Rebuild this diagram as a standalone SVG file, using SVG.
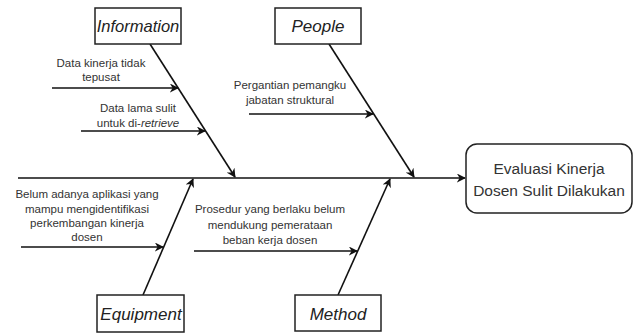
<svg xmlns="http://www.w3.org/2000/svg" width="640" height="336" viewBox="0 0 640 336">
<defs>
<marker id="ah" viewBox="0 0 10 10" refX="9" refY="5" markerWidth="9" markerHeight="9" markerUnits="userSpaceOnUse" orient="auto">
<path d="M0,0 L10,5 L0,10 L3,5 Z" fill="#111"/>
</marker>
</defs>
<style>
.box{fill:#fff;stroke:#222;stroke-width:1.5}
.cat{font-family:"Liberation Sans",Arial,sans-serif;font-size:17px;font-style:italic;fill:#222;text-anchor:middle}
.lbl{font-family:"Liberation Sans",Arial,sans-serif;font-size:11.5px;fill:#333;text-anchor:middle}
.res{font-family:"Liberation Sans",Arial,sans-serif;font-size:15.5px;fill:#333;text-anchor:middle}
.ln{stroke:#111;stroke-width:1.6;fill:none;marker-end:url(#ah)}
</style>
<rect width="640" height="336" fill="#fff"/>
<g id="connectors">
<line class="ln" x1="18" y1="178" x2="465" y2="178"/>
<line class="ln" x1="150" y1="44" x2="235" y2="177"/>
<line class="ln" x1="329" y1="44" x2="414" y2="177"/>
<line class="ln" x1="143" y1="295" x2="193" y2="179"/>
<line class="ln" x1="338" y1="295" x2="390" y2="179"/>
<line class="ln" x1="52" y1="88" x2="178" y2="88"/>
<line class="ln" x1="81" y1="131" x2="205" y2="131"/>
<line class="ln" x1="249" y1="114" x2="373" y2="114"/>
<line class="ln" x1="21" y1="247" x2="163" y2="247"/>
<line class="ln" x1="194" y1="251" x2="357" y2="251"/>
</g>
<g id="information">
<rect class="box" x="95" y="8" width="86" height="36"/>
<text class="cat" x="138" y="32" style="font-size:16.5px">Information</text>
</g>
<g id="people">
<rect class="box" x="275" y="8" width="86" height="36"/>
<text class="cat" x="318" y="32">People</text>
</g>
<g id="equipment">
<rect class="box" x="97" y="295" width="87" height="37"/>
<text class="cat" x="141" y="320">Equipment</text>
</g>
<g id="method">
<rect class="box" x="295" y="295" width="86" height="36"/>
<text class="cat" x="338" y="320">Method</text>
</g>
<g id="result">
<rect class="box" x="466" y="144" width="166" height="69" rx="11"/>
<text class="res" x="549" y="174">Evaluasi Kinerja</text>
<text class="res" x="549" y="196">Dosen Sulit Dilakukan</text>
</g>
<g id="cause-info-1">
<text class="lbl" x="101" y="67">Data kinerja tidak</text>
<text class="lbl" x="101" y="81">tepusat</text>
</g>
<g id="cause-info-2">
<text class="lbl" x="138" y="112">Data lama sulit</text>
<text class="lbl" x="138" y="127">untuk di-<tspan font-style="italic">retrieve</tspan></text>
</g>
<g id="cause-people">
<text class="lbl" x="290" y="89">Pergantian pemangku</text>
<text class="lbl" x="290" y="104">jabatan struktural</text>
</g>
<g id="cause-equipment">
<text class="lbl" x="87" y="198">Belum adanya aplikasi yang</text>
<text class="lbl" x="87" y="213">mampu mengidentifikasi</text>
<text class="lbl" x="87" y="227">perkembangan kinerja</text>
<text class="lbl" x="87" y="241">dosen</text>
</g>
<g id="cause-method">
<text class="lbl" x="270" y="213">Prosedur yang berlaku belum</text>
<text class="lbl" x="270" y="229">mendukung pemerataan</text>
<text class="lbl" x="270" y="244">beban kerja dosen</text>
</g>
</svg>
